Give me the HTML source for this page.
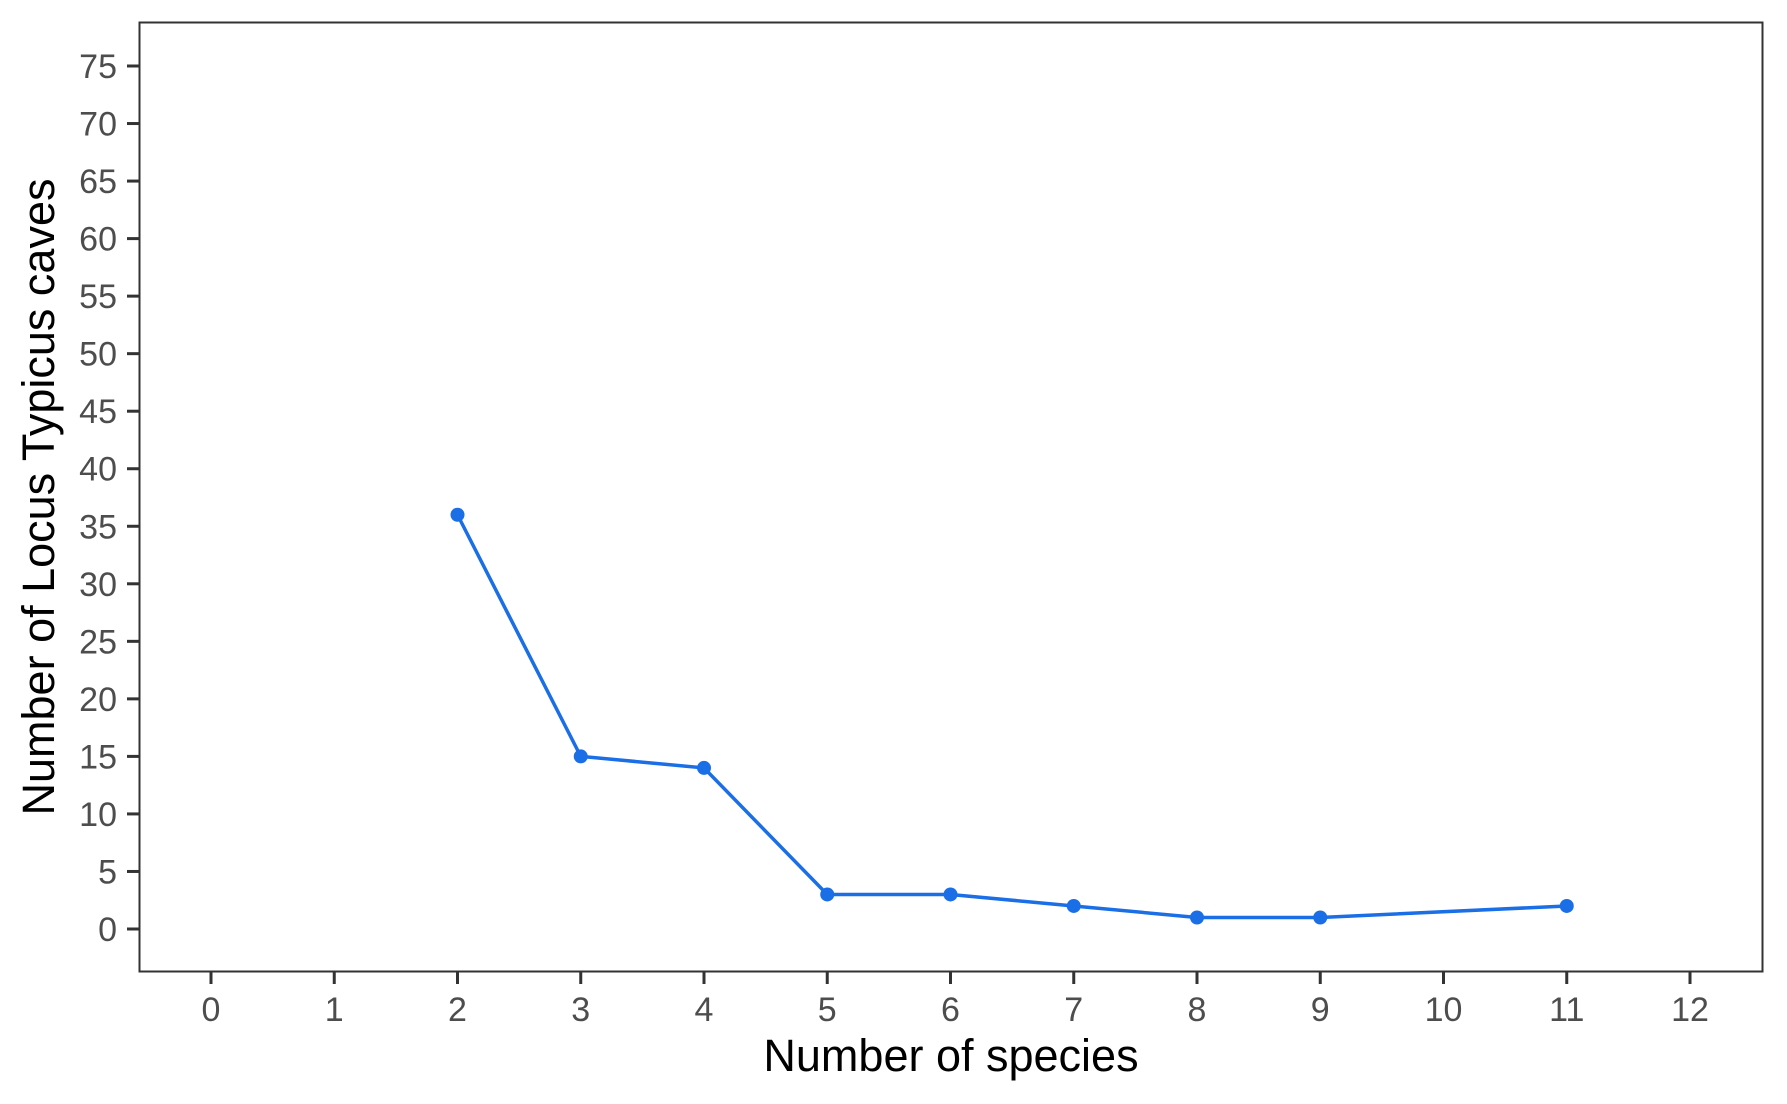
<!DOCTYPE html>
<html><head><meta charset="utf-8"><style>
body{margin:0;background:#fff;}
svg{display:block;font-family:"Liberation Sans",Arial,sans-serif;}
</style></head><body>
<svg id="chart" width="1787" height="1104">
<rect x="139.5" y="22.5" width="1623" height="949" fill="#fff" stroke="#333" stroke-width="2"/>
<g id="axes"></g>
<g id="series"></g>
<text x="951" y="1071" font-size="45" text-anchor="middle" fill="#000">Number of species</text>
<text transform="translate(54,497) rotate(-90)" font-size="45" text-anchor="middle" fill="#000">Number of Locus Typicus caves</text>
</svg>
<script>
const xCats=[2,3,4,5,6,7,8,9,11];
const yVals=[36,15,14,3,3,2,1,1,2];
const xTicks=[0,1,2,3,4,5,6,7,8,9,10,11,12];
const yTicks=[0,5,10,15,20,25,30,35,40,45,50,55,60,65,70,75];
const X=v=>211+v*(1690-211)/12;
const Y=v=>929-v*(929-66)/75;
const ns="http://www.w3.org/2000/svg";
const axes=document.getElementById('axes'),ser=document.getElementById('series');
function mk(tag,attrs,parent){const e=document.createElementNS(ns,tag);for(const k in attrs)e.setAttribute(k,attrs[k]);parent.appendChild(e);return e;}
xTicks.forEach(t=>{
 const l=mk('line',{x1:X(t),x2:X(t),y1:972,y2:984,stroke:'#333','stroke-width':3},axes);
 
 
 const tx=mk('text',{x:X(t),y:1021,'font-size':34,'text-anchor':'middle',fill:'#4d4d4d'},axes);
 tx.textContent=t;
 
 
});
yTicks.forEach(t=>{
 const l=mk('line',{x1:127,x2:139,y1:Y(t),y2:Y(t),stroke:'#333','stroke-width':3},axes);
 
 
 const tx=mk('text',{x:117,y:Y(t)+12,'font-size':34,'text-anchor':'end',fill:'#4d4d4d'},axes);
 tx.textContent=t;
 
 
});
const pl=mk('polyline',{points:xCats.map((x,i)=>X(x)+','+Y(yVals[i])).join(' '),fill:'none',stroke:'#1a6ee6','stroke-width':3.5},ser);


xCats.forEach((x,i)=>{
 const c=mk('circle',{cx:X(x),cy:Y(yVals[i]),r:7,fill:'#1a6ee6'},ser);
 
 
});
</script>
</body></html>
